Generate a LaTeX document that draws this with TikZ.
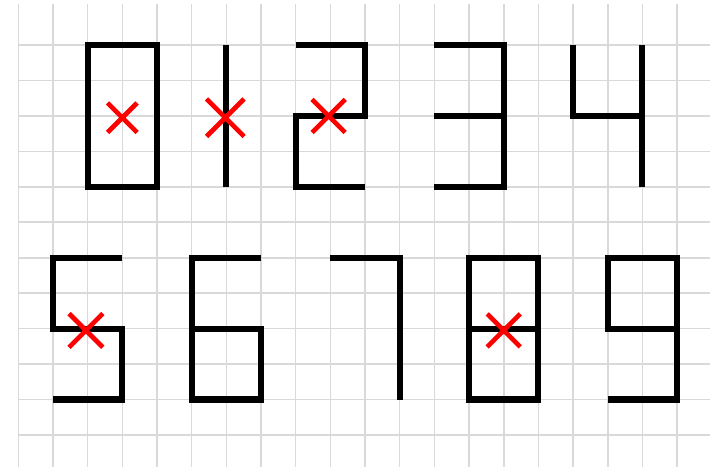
\documentclass[tikz,border=0pt]{standalone}
\usetikzlibrary{shapes.misc}

\begin{document}
\begin{tikzpicture}[x=1cm, y=-1.0225cm,
    gridline/.style={gray!30, line width=1.3pt},
    stroke/.style={black, line width=5pt, line cap=butt, line join=miter},
    redx/.style={draw=red, cross out, line width=3.8pt, inner sep=0pt, minimum size=#1}]
    \useasboundingbox (-0.528,-0.27) rectangle (19.95,12.904);

    % Grid
    \foreach \k in {0,...,19}
        \draw[gridline] (\k,-0.15) -- (\k,12.904);
    \foreach \r in {1,...,12}
        \draw[gridline] (0,\r) -- (19.95,\r);

    % Top row: 0 1 2 3 4
    \draw[stroke] (2,1) rectangle (4,5);
    \draw[stroke] (6,1) -- (6,5);
    \draw[stroke] (8,1) -- (10,1) -- (10,3) -- (8,3) -- (8,5) -- (10,5);
    \draw[stroke] (12,1) -- (14,1) -- (14,5) -- (12,5);
    \draw[stroke] (12,3) -- (14,3);
    \draw[stroke] (16,1) -- (16,3) -- (18,3);
    \draw[stroke] (18,1) -- (18,5);

    % Bottom row: 5 6 7 8 9
    \draw[stroke] (3,7) -- (1,7) -- (1,9) -- (3,9) -- (3,11) -- (1,11);
    \draw[stroke] (7,7) -- (5,7) -- (5,11) -- (7,11) -- (7,9) -- (5,9);
    \draw[stroke] (9,7) -- (11,7) -- (11,11);
    \draw[stroke] (13,7) rectangle (15,11);
    \draw[stroke] (13,9) -- (15,9);
    \draw[stroke] (19,9) -- (17,9) -- (17,7) -- (19,7) -- (19,11) -- (17,11);

    % Red crosses
    \node[redx=0.72cm] (xzero) at (3,3.05) {};
    \node[redx=0.95cm] (xone) at (5.97,3.05) {};
    \node[redx=0.82cm] (xtwo) at (8.95,3) {};
    \node[redx=0.84cm] (xfive) at (1.95,9.05) {};
    \node[redx=0.82cm] (xeight) at (14,9.05) {};
\end{tikzpicture}
\end{document}
